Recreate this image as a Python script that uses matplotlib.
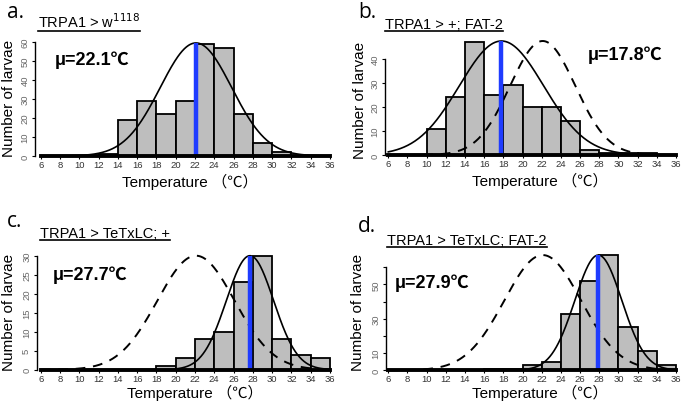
import numpy as np
import matplotlib
matplotlib.use("Agg")
import matplotlib.pyplot as plt
from matplotlib.lines import Line2D

plt.rcParams['font.family'] = ['Liberation Sans', 'Noto Sans CJK SC', 'DejaVu Sans']

W, H = 685, 402

bin_edges = list(range(6, 38, 2))
xticks = list(range(6, 38, 2))

counts_a = [0, 0, 0, 1, 19, 29, 22, 29, 59, 57, 22, 7, 2, 0, 0]
counts_b = [0, 0, 11, 24, 47, 25, 29, 20, 20, 14, 2, 1, 1, 1, 0]
counts_c = [0, 0, 0, 0, 0, 0, 1, 3, 8, 10, 23, 30, 8, 4, 3]
counts_d = [0, 0, 0, 0, 0, 1, 1, 3, 5, 33, 52, 67, 25, 11, 3]

# fitted normal curves: (mean, sd, peak height)
fit_a = (22.1, 3.7, 59.5)
fit_b = (17.8, 4.4, 47.5)
fit_c = (27.7, 2.45, 30.0)
fit_d = (27.9, 2.45, 67.0)
# dashed reference (control) curves
ref_b = (22.1, 3.4, 47.5)
ref_c = (22.1, 4.0, 30.0)
ref_d = (22.1, 4.0, 67.0)

titles = ["TRPA1 > w$^{1118}$", "TRPA1 > +; FAT-2", "TRPA1 > TeTxLC; +", "TRPA1 > TeTxLC; FAT-2"]
letters = ["a.", "b.", "c.", "d."]
mu_labels = ["μ=22.1℃", "μ=17.8℃", "μ=27.7℃", "μ=27.9℃"]
yticks_a = [0, 10, 20, 30, 40, 50, 60]
yticks_b = [0, 10, 20, 30, 40]
yticks_c = [0, 5, 10, 15, 20, 25, 30]
yticks_d = [0, 10, 20, 30, 40, 50, 60]
ylabels_d = ["0", "10", "", "30", "", "50", ""]

fig = plt.figure(figsize=(W / 100, H / 100), dpi=100)

panels = [
    dict(counts=counts_a, fit=fit_a, ref=None, yt=yticks_a, ytl=None,
         box=(40.7, 330, 157, 43), ymax=60, spine_off=5.5,
         letter=(7, 13), title=(38, 28.5), mu=(55, 60), ylab=(9, 98), xlab=(190, 182)),
    dict(counts=counts_b, fit=fit_b, ref=ref_b, yt=yticks_b, ytl=None,
         box=(388.3, 676, 156, 60), ymax=40, spine_off=3,
         letter=(358, 13), title=(385, 29.3), mu=(588, 55), ylab=(360, 100), xlab=(540, 181)),
    dict(counts=counts_c, fit=fit_c, ref=ref_c, yt=yticks_c, ytl=None,
         box=(40.7, 330, 370.7, 256.7), ymax=30, spine_off=4,
         letter=(7, 221.7), title=(40, 238), mu=(53, 275), ylab=(9, 312), xlab=(195, 392.5)),
    dict(counts=counts_d, fit=fit_d, ref=ref_d, yt=yticks_d, ytl=ylabels_d,
         box=(388.3, 676, 371.3, 268.1), ymax=60, spine_off=2.5,
         letter=(358, 226.7), title=(387, 245), mu=(395, 283), ylab=(358, 312), xlab=(540, 392.5)),
]

def fx(px):
    return px / W

def fy(py):
    return 1 - py / H

fig.canvas.draw()
renderer = fig.canvas.get_renderer()

for i, p in enumerate(panels):
    L, R, y0, ytop = p['box']
    ax = fig.add_axes([fx(L), fy(y0), (R - L) / W, (y0 - ytop) / H])
    ax.set_xlim(6, 36)
    ax.set_ylim(0, p['ymax'])
    ax.patch.set_alpha(0)
    widths = np.diff(bin_edges)
    ax.bar(bin_edges[:-1], p['counts'], width=widths, align='edge',
           color='#BEBEBE', edgecolor='black', linewidth=1.3, clip_on=False, zorder=2)
    xs = np.linspace(6, 36, 400)
    mu, sd, pk = p['fit']
    ax.plot(xs, pk * np.exp(-0.5 * ((xs - mu) / sd) ** 2), color='black', lw=1.2,
            clip_on=False, zorder=3)
    if p['ref'] is not None:
        mu2, sd2, pk2 = p['ref']
        ax.plot(xs, pk2 * np.exp(-0.5 * ((xs - mu2) / sd2) ** 2), color='black', lw=1.4,
                dashes=(5, 4), clip_on=False, zorder=3)
    ax.plot([mu, mu], [0, pk], color='#1f3cff', lw=3.2, solid_capstyle='butt',
            clip_on=False, zorder=4)
    # spines
    for s in ['top', 'right']:
        ax.spines[s].set_visible(False)
    ax.spines['bottom'].set_linewidth(2.8)
    ax.spines['bottom'].set_bounds(6, 36)
    ax.spines['bottom'].set_zorder(5)
    ax.spines['left'].set_position(('outward', p['spine_off'] * 0.72))
    ax.spines['left'].set_bounds(p['yt'][0], p['yt'][-1])
    ax.spines['left'].set_linewidth(1.0)
    ax.set_xticks(xticks)
    ax.set_xticklabels([str(t) for t in xticks])
    ax.set_yticks(p['yt'])
    if p['ytl'] is not None:
        ax.set_yticklabels(p['ytl'])
    else:
        ax.set_yticklabels([str(t) for t in p['yt']])
    ax.tick_params(axis='x', length=2.0, width=0.8, pad=0.8, labelsize=6.8, labelcolor='#333333')
    ax.tick_params(axis='y', length=2.5, width=0.8, pad=1.5, labelsize=6.8, labelcolor='#666666',
                   labelrotation=90)
    for lab in ax.get_yticklabels():
        lab.set_verticalalignment('center')

    # text
    fig.text(fx(p['letter'][0]), fy(p['letter'][1]), letters[i], fontsize=15,
             family=['Open Sans', 'DejaVu Sans'], ha='left', va='center')
    t = fig.text(fx(p['title'][0]), fy(p['title'][1]), titles[i], fontsize=10.5,
                 ha='left', va='baseline')
    bb = t.get_window_extent(renderer=renderer)
    uy = fy(p['title'][1] + 3)
    fig.add_artist(Line2D([bb.x0 / W, bb.x1 / W], [uy, uy], color='black', lw=1.2,
                          transform=fig.transFigure))
    fig.text(fx(p['mu'][0]), fy(p['mu'][1]), mu_labels[i], fontsize=13, fontweight='bold',
             ha='left', va='center')
    fig.text(fx(p['ylab'][0]), fy(p['ylab'][1]), "Number of larvae", fontsize=11,
             rotation=90, ha='center', va='center')
    fig.text(fx(p['xlab'][0]), fy(p['xlab'][1]), "Temperature （℃）", fontsize=11,
             ha='center', va='center')

fig.savefig("out.png", dpi=100)
